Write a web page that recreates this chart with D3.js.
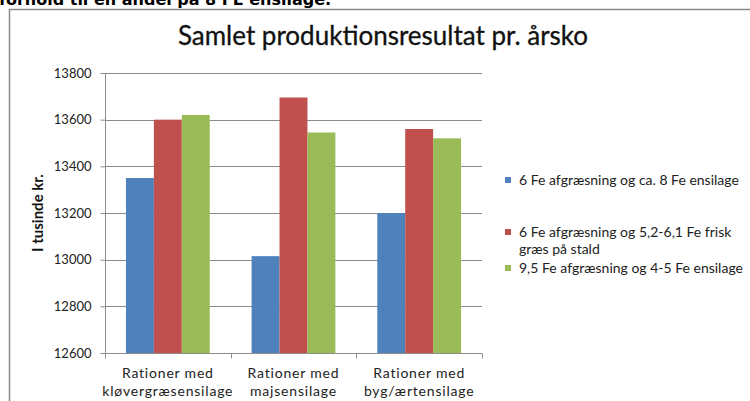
<!DOCTYPE html>
<html>
<head>
<meta charset="utf-8">
<script src="https://cdn.jsdelivr.net/npm/d3@7"></script>
<style>
  body { margin: 0; background: #fff; }
  svg { display: block; }
</style>
</head>
<body>
<div id="chart"></div>
<script>
// data
var categories = [["Rationer med", "kløvergræsensilage"], ["Rationer med", "majsensilage"], ["Rationer med", "byg/ærtensilage"]];
var series = ["6 Fe afgræsning og ca. 8 Fe ensilage", "6 Fe afgræsning og 5,2-6,1 Fe frisk græs på stald", "9,5 Fe afgræsning og 4-5 Fe ensilage"];
var legendLines = [["6 Fe afgræsning og ca. 8 Fe ensilage"], ["6 Fe afgræsning og 5,2-6,1 Fe frisk", "græs på stald"], ["9,5 Fe afgræsning og 4-5 Fe ensilage"]];
var values1 = [13350, 13015, 13200];
var values2 = [13600, 13695, 13560];
var values3 = [13620, 13545, 13520];
var yTicks = [12600, 12800, 13000, 13200, 13400, 13600, 13800];

var w = 750, h = 401;
var colors = ["#4f81bd", "#c0504d", "#9bbb59"];
var font = "Lato, 'Open Sans', sans-serif";

var svg = d3.select("#chart")
    .append("svg")
    .attr("width", w)
    .attr("height", h);

// line of text above the chart, cut by the top edge as in the picture
svg.append("text")
    .attr("x", -1)
    .attr("y", 5)
    .style("font-family", "'DejaVu Sans', Verdana, sans-serif")
    .style("font-weight", "bold")
    .style("font-size", "16px")
    .text("forhold til en andel på 8 FE ensilage.");

// chart frame
svg.append("path")
    .attr("d", "M9.5," + h + "V9.5H" + w)
    .attr("fill", "none")
    .attr("stroke", "#8a8a8a")
    .attr("stroke-width", 1.5);

var x0 = d3.scaleBand()
    .domain(d3.range(categories.length))
    .range([105, 482]);

var gap = x0.bandwidth() * 1.5 / 4.5;
var x1 = d3.scaleBand()
    .domain(d3.range(series.length))
    .range([gap / 2, x0.bandwidth() - gap / 2]);

var y = d3.scaleLinear()
    .domain([12600, 13800])
    .range([353, 73]);

// gridlines
svg.append("g")
    .selectAll("line")
    .data(yTicks.slice(1))
    .enter()
    .append("line")
    .attr("x1", 105)
    .attr("x2", 482)
    .attr("y1", function(d) { return Math.round(y(d)) + 0.5; })
    .attr("y2", function(d) { return Math.round(y(d)) + 0.5; })
    .attr("stroke", "#8c8c8c");

// bars
var rows = categories.map(function(c, i) { return [values1[i], values2[i], values3[i]]; });
var groups = svg.append("g")
    .selectAll("g")
    .data(rows)
    .enter()
    .append("g")
    .attr("transform", function(d, i) { return "translate(" + x0(i) + ",0)"; });

groups.selectAll("rect")
    .data(function(d) { return d; })
    .enter()
    .append("rect")
    .attr("x", function(d, i) { return x1(i); })
    .attr("width", x1.bandwidth())
    .attr("y", function(d) { return y(d); })
    .attr("height", function(d) { return y(12600) - y(d); })
    .attr("fill", function(d, i) { return colors[i]; });

// y axis
var yAxis = svg.append("g")
    .attr("transform", "translate(105.5,0)")
    .call(d3.axisLeft(y).tickValues(yTicks).tickSize(5).tickPadding(9).tickFormat(d3.format("d")));
yAxis.selectAll("line, path").attr("stroke", "#8c8c8c");
yAxis.select(".domain").attr("d", "M0," + y(13800) + "V" + y(12600));
yAxis.selectAll("text")
    .style("font-family", font)
    .style("font-size", "13px")
    .attr("fill", "#222");

// x axis
var xAxis = svg.append("g")
    .attr("transform", "translate(0," + (Math.round(y(12600)) + 0.5) + ")");
xAxis.append("line")
    .attr("x1", 105)
    .attr("x2", 482)
    .attr("stroke", "#8c8c8c");
xAxis.selectAll(".tick")
    .data(d3.range(categories.length + 1))
    .enter()
    .append("line")
    .attr("class", "tick")
    .attr("x1", function(d) { return Math.round(d < categories.length ? x0(d) : 482) + 0.5; })
    .attr("x2", function(d) { return Math.round(d < categories.length ? x0(d) : 482) + 0.5; })
    .attr("y2", 5)
    .attr("stroke", "#8c8c8c");

var catLabels = xAxis.selectAll(".cat")
    .data(categories)
    .enter()
    .append("text")
    .attr("class", "cat")
    .attr("text-anchor", "middle")
    .style("font-family", font)
    .style("font-size", "14px")
    .style("letter-spacing", "0.8px")
    .attr("fill", "#222");
catLabels.selectAll("tspan")
    .data(function(d, i) { return d.map(function(s) { return { s: s, i: i }; }); })
    .enter()
    .append("tspan")
    .attr("x", function(d) { return x0(d.i) + x0.bandwidth() / 2; })
    .attr("y", function(d, j) { return 24 + j * 18; })
    .text(function(d) { return d.s; });

// y label
svg.append("text")
    .attr("transform", "translate(43," + ((y(12600) + y(13800)) / 2) + ") rotate(-90)")
    .attr("text-anchor", "middle")
    .style("font-family", font)
    .style("font-weight", "bold")
    .style("font-size", "15px")
    .attr("fill", "#111")
    .text("I tusinde kr.");

// title
svg.append("text")
    .attr("x", 383)
    .attr("y", 45)
    .attr("text-anchor", "middle")
    .style("font-family", font)
    .style("font-size", "26px")
    .attr("fill", "#111")
    .attr("stroke", "#111")
    .attr("stroke-width", 0.3)
    .text("Samlet produktionsresultat pr. årsko");

// legend
var legendY = [180, 232, 268];
var legend = svg.append("g")
    .selectAll("g")
    .data(series)
    .enter()
    .append("g")
    .attr("transform", function(d, i) { return "translate(505," + legendY[i] + ")"; });

legend.append("rect")
    .attr("x", 0)
    .attr("y", -3)
    .attr("width", 6)
    .attr("height", 6)
    .attr("fill", function(d, i) { return colors[i]; });

legend.append("text")
    .style("font-family", font)
    .style("font-size", "14px")
    .attr("fill", "#222")
    .selectAll("tspan")
    .data(function(d, i) { return legendLines[i]; })
    .enter()
    .append("tspan")
    .attr("x", 14)
    .attr("y", function(d, j) { return 5 + j * 16.5; })
    .text(function(d) { return d; });
</script>
</body>
</html>
